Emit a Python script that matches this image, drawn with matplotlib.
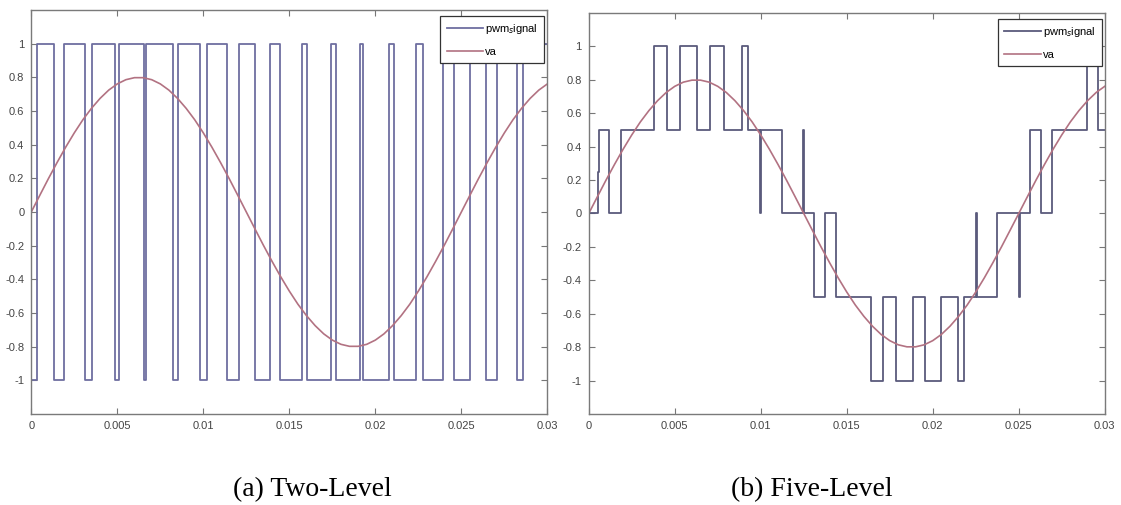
import matplotlib
matplotlib.use('Agg')
import matplotlib.pyplot as plt

plt.rcParams['font.family'] = ['Liberation Sans', 'DejaVu Sans']
plt.rcParams['axes.unicode_minus'] = False

# reference voltage va, sampled every 0.5 ms
va_t = [i * 0.0005 for i in range(61)]
va = [0.000, 0.100, 0.199, 0.294, 0.385, 0.470, 0.548, 0.616, 0.675, 0.724,
      0.761, 0.786, 0.798, 0.798, 0.786, 0.761, 0.724, 0.675, 0.616, 0.548,
      0.470, 0.385, 0.294, 0.199, 0.100, 0.000, -0.100, -0.199, -0.294, -0.385,
      -0.470, -0.548, -0.616, -0.675, -0.724, -0.761, -0.786, -0.798, -0.798, -0.786,
      -0.761, -0.724, -0.675, -0.616, -0.548, -0.470, -0.385, -0.294, -0.199, -0.100,
      0.000, 0.100, 0.199, 0.294, 0.385, 0.470, 0.548, 0.616, 0.675, 0.724,
      0.761]

# two-level pwm: switching instants and level after each switch
two_t = [0.0, 0.00031, 0.00134, 0.00192, 0.00312, 0.00351, 0.00488, 0.00512,
         0.00655, 0.00665, 0.00826, 0.00851, 0.00981, 0.01023, 0.01136, 0.01209,
         0.01300, 0.01388, 0.01444, 0.01572, 0.01605, 0.01742, 0.01770, 0.01911,
         0.01930, 0.02080, 0.02109, 0.02235, 0.02279, 0.02392, 0.02460, 0.02551,
         0.02644, 0.02706, 0.02822, 0.02861, 0.03]
two_v = [-1, 1, -1, 1, -1, 1, -1, 1,
         -1, 1, -1, 1, -1, 1, -1, 1,
         -1, 1, -1, 1, -1, 1, -1, 1,
         -1, 1, -1, 1, -1, 1, -1, 1,
         -1, 1, -1, 1, 1]

# five-level pwm
five_t = [0.0, 0.00052, 0.00058, 0.00120, 0.00186, 0.00381, 0.00453, 0.00531,
          0.00628, 0.00705, 0.00787, 0.00890, 0.00925, 0.00997, 0.01004, 0.01122,
          0.01248, 0.01252, 0.01310, 0.01374, 0.01438, 0.01640, 0.01709, 0.01785,
          0.01887, 0.01955, 0.02048, 0.02149, 0.02184, 0.02250, 0.02255, 0.02372,
          0.02504, 0.02508, 0.02566, 0.02628, 0.02692, 0.02895, 0.02963, 0.03]
five_v = [0, 0.25, 0.5, 0, 0.5, 1, 0.5, 1,
          0.5, 1, 0.5, 1, 0.5, 0, 0.5, 0,
          0.5, 0, -0.5, 0, -0.5, -1, -0.5, -1,
          -0.5, -1, -0.5, -1, -0.5, 0, -0.5, 0,
          -0.5, 0, 0.5, 0, 0.5, 1, 0.5, 0.5]

xticks = [0, 0.005, 0.01, 0.015, 0.02, 0.025, 0.03]
xlabels = ['0', '0.005', '0.01', '0.015', '0.02', '0.025', '0.03']
yticks = [-1, -0.8, -0.6, -0.4, -0.2, 0, 0.2, 0.4, 0.6, 0.8, 1]
ylabels = ['-1', '-0.8', '-0.6', '-0.4', '-0.2', '0', '0.2', '0.4', '0.6', '0.8', '1']

fig = plt.figure(figsize=(11.21, 5.05), dpi=100)
ax_two = fig.add_axes([0.0279, 0.1802, 0.4604, 0.8000])
ax_five = fig.add_axes([0.5252, 0.1802, 0.4603, 0.7941])


def style(ax):
    ax.set_xlim(0, 0.03)
    ax.set_ylim(-1.2, 1.2)
    ax.set_xticks(xticks)
    ax.set_xticklabels(xlabels)
    ax.set_yticks(yticks)
    ax.set_yticklabels(ylabels)
    ax.tick_params(direction='in', length=4, width=0.8, colors='#777777',
                   labelcolor='#444444', labelsize=8, top=True, right=True,
                   pad=5)
    for sp in ax.spines.values():
        sp.set_color('#7a7a7a')
        sp.set_linewidth(1.0)
    leg = ax.legend(loc='upper right', bbox_to_anchor=(0.994, 0.985),
                    borderaxespad=0, fontsize=8, handlelength=3.3,
                    handletextpad=0.2, labelspacing=0.95, borderpad=0.55,
                    fancybox=False, framealpha=1, edgecolor='#333333')
    leg.get_frame().set_linewidth(0.9)


ax_two.step(two_t, two_v, where='post', color='#6e6ea0', lw=1.3,
            label='pwm$_s$ignal')
ax_two.plot(va_t, va, color='#b27282', lw=1.2, label='va')
style(ax_two)

ax_five.step(five_t, five_v, where='post', color='#5a5a7c', lw=1.3,
             label='pwm$_s$ignal')
ax_five.plot(va_t, va, color='#b27282', lw=1.2, label='va')
style(ax_five)

fig.text(0.279, 0.018, '(a) Two-Level', ha='center', va='baseline',
         family='Liberation Serif', fontsize=20)
fig.text(0.724, 0.018, '(b) Five-Level', ha='center', va='baseline',
         family='Liberation Serif', fontsize=20)

fig.savefig('out.png', dpi=100)
